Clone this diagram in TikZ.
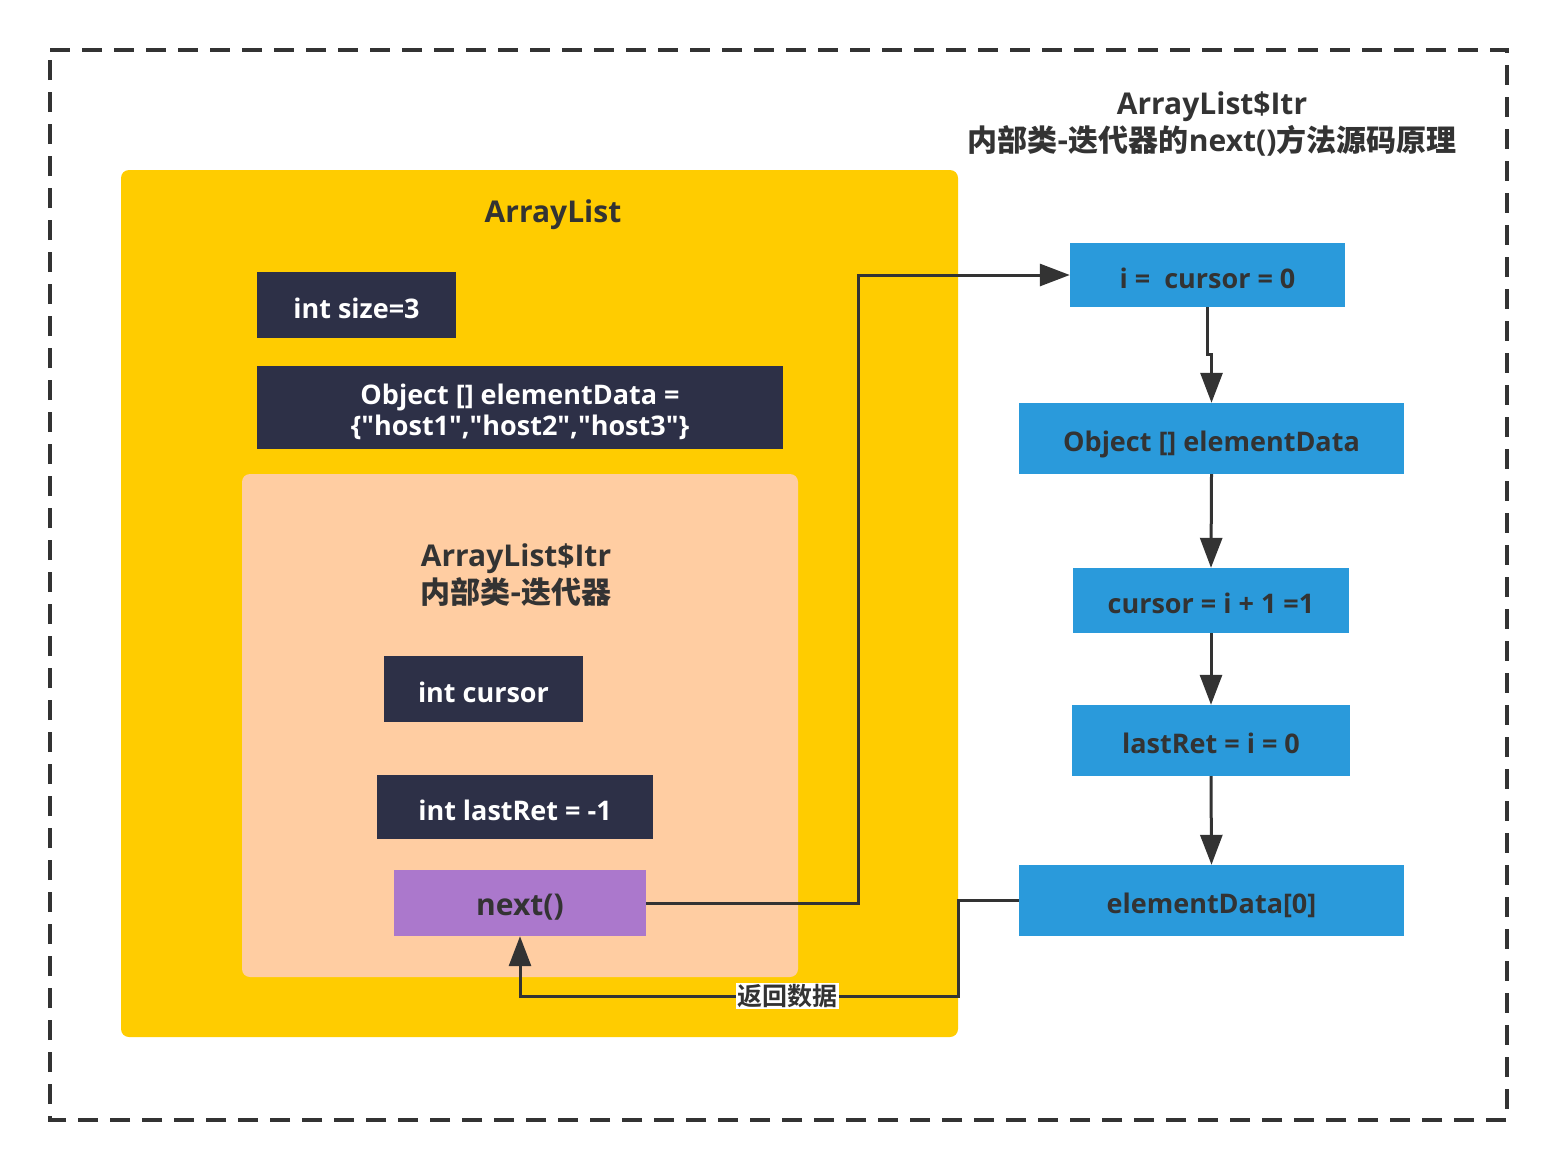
\documentclass[tikz,border=0pt]{standalone}
\usepackage{fontspec}
\setmainfont{Open Sans}[Ligatures=TeXOff]
\newfontfamily\cjk{Noto Sans CJK SC}[UprightFont={* Bold}]
\usetikzlibrary{arrows.meta}
\definecolor{txt}{HTML}{333333}
\definecolor{yel}{HTML}{FFCC00}
\definecolor{peach}{HTML}{FFCDA2}
\definecolor{navy}{HTML}{2D3047}
\definecolor{purp}{HTML}{AB78CC}
\definecolor{blu}{HTML}{2A9ADB}
\tikzset{
  boxtxt/.style={inner sep=0pt, font=\bfseries\fontsize{27}{32}\selectfont, align=center, text height=28pt, text depth=2pt},
  dk/.style={boxtxt, fill=navy, text=white},
  bl/.style={boxtxt, fill=blu, text=txt},
  ttl/.style={text=txt, inner sep=0pt, font=\bfseries\fontsize{30}{37}\selectfont, align=center},
  arr/.style={draw=txt, line width=3pt, -{Triangle[length=30pt,width=22pt]}},
}
\begin{document}
\begin{tikzpicture}[x=1pt,y=-1pt]
\useasboundingbox (0,0) rectangle (1558,1170);
% outer dashed frame
\draw[draw=txt, line width=4pt, dash pattern=on 20pt off 12pt] (50,50) -- (1507,50) -- (1507,1120) -- (50,1120) -- cycle;
% title
\node[ttl] (title) at (1212,124) {ArrayList\$Itr\\[0pt]{\cjk 内部类-迭代器的}next(){\cjk 方法源码原理}};
% ArrayList container
\node[fill=yel, rounded corners=8pt, minimum width=837pt, minimum height=867pt, inner sep=0pt] (al) at (539.5,603.5) {};
\node[ttl] (altitle) at (553,215) {ArrayList};
\node[dk, minimum width=199pt, minimum height=66pt] (size) at (356.5,305) {int size=3};
\node[dk, minimum width=526pt, minimum height=83pt, text height=55pt, text depth=0pt] (objd) at (520,407.5) {Object [] elementData =\\[-1pt]\{"host1","host2","host3"\}};
% Itr container
\node[fill=peach, rounded corners=8pt, minimum width=556pt, minimum height=503pt, inner sep=0pt] (itr) at (520,725.5) {};
\node[ttl] (itrtitle) at (516,575) {ArrayList\$Itr\\[0pt]{\cjk 内部类-迭代器}};
\node[dk, minimum width=199pt, minimum height=66pt] (cursor) at (483.5,689) {int cursor};
\node[dk, minimum width=276pt, minimum height=64pt] (lastret) at (515,807) {int lastRet = -1};
\node[fill=purp, text=txt, inner sep=0pt, font=\bfseries\fontsize{30}{36}\selectfont, text height=26pt, text depth=2pt, minimum width=252pt, minimum height=66pt] (next) at (520,903) {next()};
% right flow
\node[bl, minimum width=275pt, minimum height=64pt] (b1) at (1207.5,275) {i =\ \ cursor = 0};
\node[bl, minimum width=385pt, minimum height=71pt] (b2) at (1211.5,438.5) {Object [] elementData};
\node[bl, minimum width=276pt, minimum height=65pt] (b3) at (1211,600.5) {cursor = i + 1 =1};
\node[bl, minimum width=278pt, minimum height=71pt] (b4) at (1211,740.5) {lastRet = i = 0};
\node[bl, minimum width=385pt, minimum height=71pt] (b5) at (1211.5,900.5) {elementData[0]};
% connectors
\draw[arr] (next.east) -- ++(212,0) |- (b1.west);
\draw[arr] (b1.south) -- ++(0,47) -| (b2.north);
\draw[arr] (b2.south) -- (b3.north);
\draw[arr] (b3.south) -- (b4.north);
\draw[arr] (b4.south) -- (b5.north);
\coordinate (rc) at (958,996);
\draw[arr] (b5.west) -| (rc) -| (next.south)
  node[pos=0.195, fill=white, text=txt, inner sep=1.5pt, font=\cjk\fontsize{25}{29}\selectfont] (retlbl) {返回数据};
\end{tikzpicture}
\end{document}
